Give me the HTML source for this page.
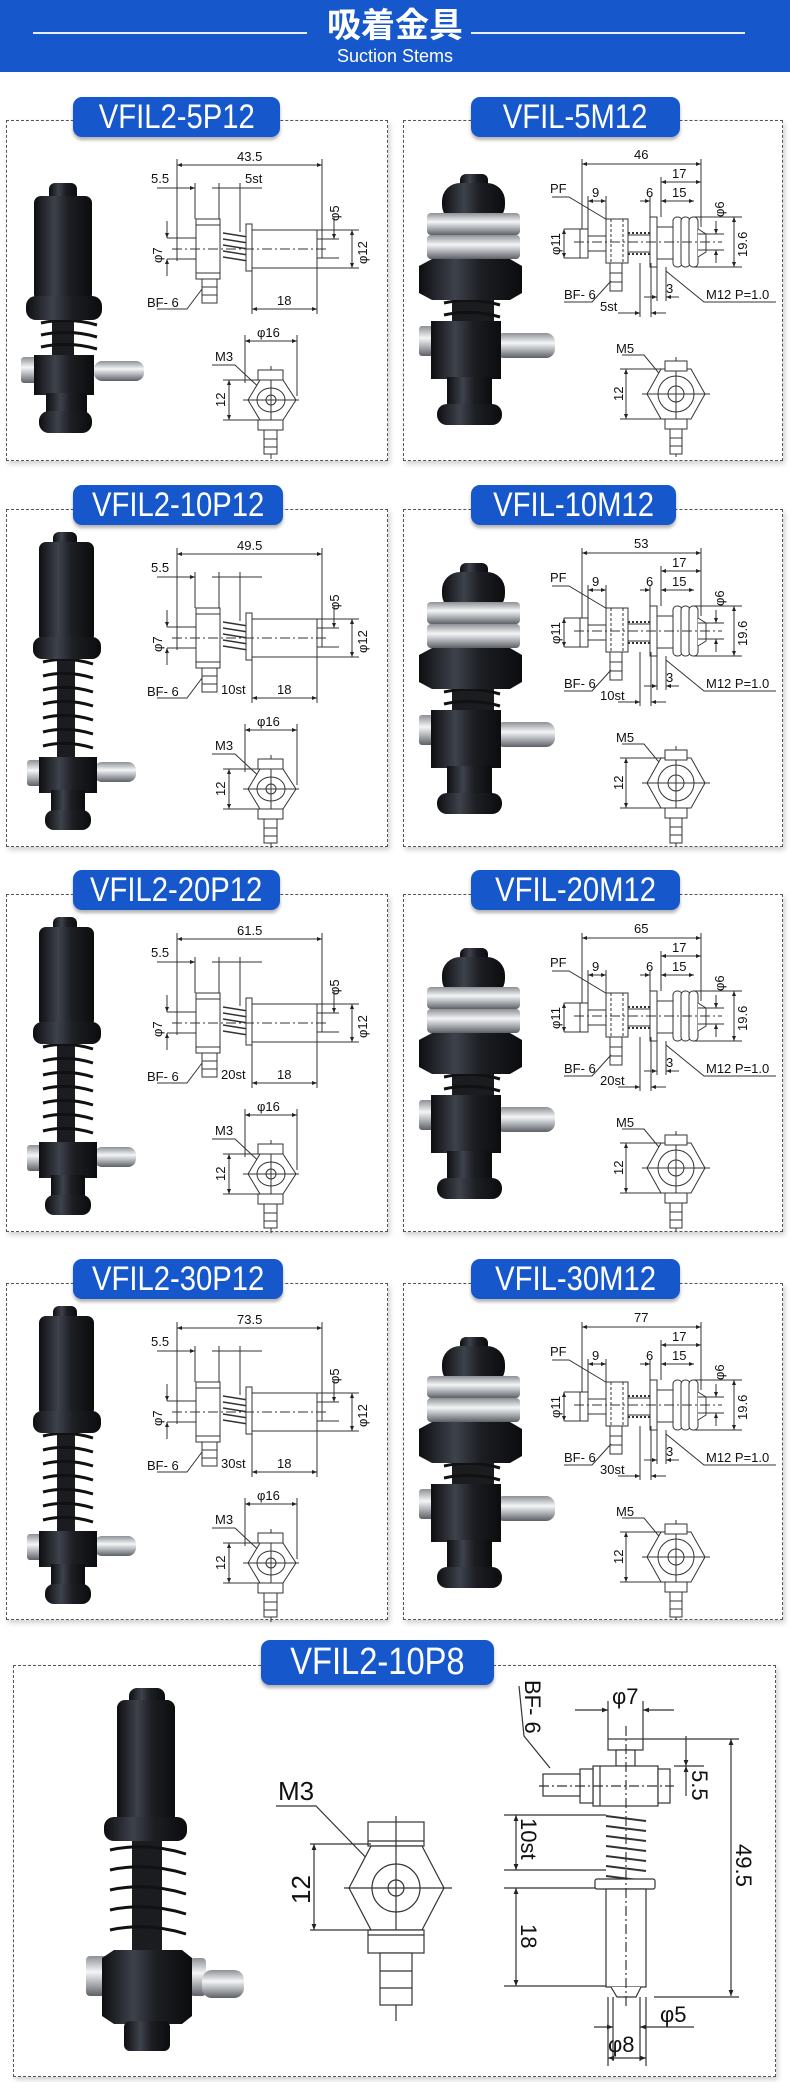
<!DOCTYPE html>
<html><head><meta charset="utf-8"><style>
*{margin:0;padding:0;box-sizing:border-box}
body{width:790px;height:2082px;background:#fff;position:relative;overflow:hidden;font-family:"Liberation Sans","Noto Sans CJK JP",sans-serif}
.hdr{position:absolute;left:0;top:0;width:790px;height:72px;background:#1658cc}
.hl{position:absolute;top:32px;height:2px;background:#e8eefa}
.t1{position:absolute;left:0;width:790px;top:6px;text-align:center;color:#fff;font:bold 34px "Liberation Sans","Noto Sans CJK JP",sans-serif;line-height:40px}
.t2{position:absolute;left:0;width:790px;top:46px;text-align:center;color:#fff;font-size:18px;line-height:20px}
.pn{position:absolute;border:1.5px dashed #555;box-shadow:2px 3px 5px rgba(0,0,0,.18);background:#fff}
.pill{position:absolute;background:#1658cc;border-radius:9px;box-shadow:0 3px 3px rgba(0,0,0,.3);color:#fff;text-align:center;font-size:34px;line-height:40px;z-index:2}
.pill span{display:inline-block;transform:scaleX(.86)}
svg.d{position:absolute;left:0;top:0}
svg text{font-family:"Liberation Sans",sans-serif;font-size:13px;fill:#111}
</style></head><body>
<svg width="0" height="0" style="position:absolute">
<defs>
<linearGradient id="g" x1="0" x2="1"><stop offset="0" stop-color="#0d0e11"/><stop offset=".35" stop-color="#3e424b"/><stop offset=".6" stop-color="#1c1e23"/><stop offset="1" stop-color="#0b0c0e"/></linearGradient>
<linearGradient id="s" x1="0" y1="0" x2="0" y2="1"><stop offset="0" stop-color="#8d9196"/><stop offset=".4" stop-color="#f4f5f6"/><stop offset=".7" stop-color="#a9adb2"/><stop offset="1" stop-color="#5d6166"/></linearGradient>
<marker id="a" viewBox="0 0 10 10" refX="10" refY="5" markerWidth="7" markerHeight="5" orient="auto-start-reverse"><path d="M0 1L10 5L0 9Z" fill="#222"/></marker>
<symbol id="pph" viewBox="0 0 382 341"><rect x="42" y="62" width="28" height="20" rx="6" fill="url(#g)"/><rect x="27" y="75" width="58" height="105" rx="7" fill="url(#g)"/><rect x="45" y="195" width="22" height="45" fill="#1a1c20"/><path d="M34 202 Q62 196 90 204 M34 214 Q62 208 90 216 M34 226 Q62 220 90 228" stroke="#111" stroke-width="3" fill="none"/><rect x="19" y="175" width="76" height="24" rx="10" fill="url(#g)"/><rect x="87" y="240" width="50" height="20" rx="8" fill="url(#s)"/><rect x="14" y="236" width="16" height="26" rx="3" fill="url(#s)"/><rect x="27" y="234" width="60" height="40" fill="url(#g)"/><rect x="39" y="272" width="41" height="30" fill="url(#g)"/><rect x="32" y="290" width="53" height="22" rx="10" fill="url(#g)"/></symbol>
<symbol id="pphl" viewBox="0 0 382 341"><rect x="46" y="22" width="24" height="18" rx="6" fill="url(#g)"/><rect x="32" y="32" width="55" height="100" rx="7" fill="url(#g)"/><rect x="50" y="145" width="18" height="110" fill="#1a1c20"/><path d="M36 152 Q60 146 86 154 M36 166 Q60 160 86 168 M36 180 Q60 174 86 182 M36 194 Q60 188 86 196 M36 208 Q60 202 86 210 M36 222 Q60 216 86 224 M36 236 Q60 230 86 238" stroke="#111" stroke-width="3" fill="none"/><rect x="26" y="127" width="68" height="22" rx="9" fill="url(#g)"/><rect x="87" y="252" width="42" height="20" rx="8" fill="url(#s)"/><rect x="20" y="250" width="15" height="26" rx="3" fill="url(#s)"/><rect x="32" y="247" width="58" height="36" fill="url(#g)"/><rect x="44" y="280" width="34" height="30" fill="url(#g)"/><rect x="38" y="300" width="46" height="20" rx="9" fill="url(#g)"/></symbol>
<symbol id="mph" viewBox="0 0 382 341"><rect x="56" y="53" width="28" height="16" rx="6" fill="url(#g)"/><rect x="38" y="62" width="63" height="40" rx="18" fill="url(#g)"/><rect x="23" y="92" width="93" height="22" rx="4" fill="url(#s)"/><rect x="23" y="114" width="93" height="24" rx="4" fill="url(#s)"/><rect x="48" y="175" width="42" height="30" fill="#1a1c20"/><path d="M40 182 Q68 176 96 184 M40 194 Q68 188 96 196" stroke="#111" stroke-width="3" fill="none"/><path d="M15 145 L28 138 H106 L118 145 V172 L106 179 H28 L15 172Z" fill="url(#g)"/><rect x="15" y="205" width="18" height="30" rx="3" fill="url(#s)"/><rect x="91" y="212" width="60" height="25" rx="9" fill="url(#s)"/><rect x="27" y="200" width="70" height="58" fill="url(#g)"/><rect x="43" y="256" width="45" height="35" fill="url(#g)"/><rect x="33" y="283" width="65" height="21" rx="10" fill="url(#g)"/></symbol>
<symbol id="pdr" viewBox="0 0 382 341"><g stroke="#333" stroke-width="1" fill="none">
<line x1="170" y1="44" x2="315" y2="44" marker-start="url(#a)" marker-end="url(#a)"/>
<path d="M170 38V140M315 38V118M188 62V98M212 62V98M233 62V111"/>
<line x1="150" y1="67" x2="188" y2="67" marker-end="url(#a)"/><line x1="205" y1="67" x2="255" y2="67"/>
<rect x="189" y="98" width="24" height="60" fill="#fff"/><path d="M189 104H213M189 152H213"/>
<rect x="170" y="117" width="19" height="21" fill="#fff"/>
<path d="M216 112L241 116M216 118L241 122M216 124L241 128M216 130L241 134M216 136L241 140" stroke-width="1.5"/>
<rect x="239" y="103" width="6" height="47" fill="#fff"/><rect x="245" y="109" width="65" height="38" fill="#fff"/><rect x="310" y="118" width="5" height="19" fill="#fff"/>
<line x1="165" y1="128" x2="322" y2="128" stroke-dasharray="10 3 2 3"/>
<rect x="195" y="158" width="15" height="24" fill="#fff"/><path d="M195 166H210M195 174H210"/>
<line x1="327" y1="96" x2="327" y2="118" marker-end="url(#a)"/><line x1="345" y1="109" x2="345" y2="147" marker-start="url(#a)" marker-end="url(#a)"/>
<path d="M310 109H352M310 147H352M315 118H332M315 137H332M160 117H170M160 138H170"/>
<line x1="160" y1="100" x2="160" y2="117" marker-end="url(#a)"/><line x1="160" y1="155" x2="160" y2="138" marker-end="url(#a)"/>
<path d="M150 188H180L195 168"/>
<line x1="245" y1="188" x2="310" y2="188" marker-start="url(#a)" marker-end="url(#a)"/><path d="M245 147V193M310 147V193"/>
<line x1="238" y1="220" x2="290" y2="220" marker-start="url(#a)" marker-end="url(#a)"/><path d="M238 214V262M290 214V275"/>
<path d="M205 244H228L258 272"/>
<polygon points="241,279 253,259 276,259 289,279 276,299 253,299" fill="#fff"/>
<ellipse cx="264" cy="279" rx="14" ry="12"/><circle cx="264" cy="279" r="5"/><path d="M236 279H292M264 245V338"/>
<rect x="251" y="249" width="25" height="10" fill="#fff"/><rect x="251" y="299" width="25" height="10" fill="#fff"/><rect x="257" y="309" width="13" height="24" fill="#fff"/><path d="M257 318H270M257 326H270"/>
<line x1="222" y1="259" x2="222" y2="299" marker-start="url(#a)" marker-end="url(#a)"/><path d="M216 259H253M216 299H253"/>
</g></symbol>
<symbol id="mdr" viewBox="0 0 382 341"><g stroke="#333" stroke-width="1" fill="none">
<line x1="178" y1="43" x2="297" y2="43" marker-start="url(#a)" marker-end="url(#a)"/>
<path d="M178 38V108M297 38V106M257 56V96M202 75V98M184 75V108M246 75V96"/>
<line x1="257" y1="61" x2="297" y2="61" marker-start="url(#a)" marker-end="url(#a)"/>
<line x1="184" y1="80" x2="202" y2="80" marker-start="url(#a)" marker-end="url(#a)"/>
<line x1="236" y1="80" x2="246" y2="80" marker-end="url(#a)"/><line x1="257" y1="80" x2="290" y2="80" marker-start="url(#a)" marker-end="url(#a)"/>
<path d="M148 76H165L205 100"/>
<rect x="176" y="108" width="8" height="29" fill="#fff"/><rect x="184" y="115" width="18" height="15" fill="#fff"/>
<rect x="202" y="98" width="22" height="44" fill="#fff"/><path d="M207 98V142M219 98V142" stroke-dasharray="3 2"/>
<rect x="224" y="114" width="22" height="17" fill="#fff"/><path d="M224 112H246M224 133H246" stroke-dasharray="2 2" stroke-width="2"/>
<rect x="246" y="96" width="7" height="50" fill="#fff"/><rect x="253" y="106" width="19" height="32" fill="#fff"/>
<rect x="269" y="96" width="9" height="50" rx="4" fill="#fff"/><rect x="277" y="96" width="9" height="50" rx="4" fill="#fff"/><rect x="285" y="96" width="9" height="50" rx="4" fill="#fff"/>
<path d="M294 108L302 113V131L294 136" fill="#fff"/>
<line x1="170" y1="121" x2="318" y2="121" stroke-dasharray="10 3 2 3"/>
<path d="M294 113H320M294 129H320M290 96H338M290 146H338M160 108H176M160 137H176"/>
<line x1="312" y1="100" x2="312" y2="113" marker-end="url(#a)"/><line x1="312" y1="142" x2="312" y2="129" marker-end="url(#a)"/>
<line x1="330" y1="96" x2="330" y2="146" marker-start="url(#a)" marker-end="url(#a)"/>
<line x1="160" y1="108" x2="160" y2="137" marker-start="url(#a)" marker-end="url(#a)"/>
<rect x="206" y="142" width="12" height="28" fill="#fff"/><path d="M206 152H218M206 161H218"/>
<path d="M160 181H188L207 160"/>
<path d="M253 146V180M262 146V180M236 142V196M247 142V196"/>
<line x1="240" y1="176" x2="253" y2="176" marker-end="url(#a)"/><line x1="275" y1="176" x2="262" y2="176" marker-end="url(#a)"/>
<line x1="214" y1="192" x2="236" y2="192" marker-end="url(#a)"/><line x1="262" y1="192" x2="247" y2="192" marker-end="url(#a)"/>
<path d="M372 181H300L262 150"/>
<path d="M218 234H240L268 268"/>
<polygon points="243,273 257,248 287,248 301,273 287,298 257,298" fill="#fff"/>
<circle cx="272" cy="273" r="18"/><circle cx="272" cy="273" r="8"/><path d="M238 273H306M272 236V336"/>
<rect x="261" y="240" width="22" height="10" fill="#fff"/><rect x="261" y="298" width="22" height="10" fill="#fff"/><rect x="266" y="308" width="12" height="25" fill="#fff"/><path d="M266 317H278M266 325H278"/>
<line x1="222" y1="248" x2="222" y2="298" marker-start="url(#a)" marker-end="url(#a)"/><path d="M216 248H257M216 298H257"/>
</g></symbol>
</defs></svg>

<div class="hdr"><div class="hl" style="left:33px;width:274px"></div><div class="hl" style="left:471px;width:274px"></div>
<div class="t1">吸着金具</div><div class="t2">Suction Stems</div></div>

<div class="pill" style="left:73px;top:97px;width:207px;height:40px"><span>VFIL2-5P12</span></div>
<div class="pill" style="left:471px;top:97px;width:209px;height:40px"><span>VFIL-5M12</span></div>
<div class="pn" style="left:6px;top:120px;width:382px;height:341px"><svg class="d" width="382" height="341"><use href="#pph"/><use href="#pdr"/>
<text x="230" y="40">43.5</text><text x="144" y="62">5.5</text><text x="238" y="62">5st</text>
<text transform="translate(332,100) rotate(-90)">φ5</text><text transform="translate(360,143) rotate(-90)">φ12</text><text transform="translate(155,142) rotate(-90)">φ7</text>
<text x="140" y="186">BF- 6</text><text x="270" y="184">18</text><text x="250" y="216">φ16</text><text x="208" y="240">M3</text><text transform="translate(218,286) rotate(-90)">12</text></svg></div>
<div class="pn" style="left:403px;top:120px;width:380px;height:341px"><svg class="d" width="382" height="341"><use href="#mph"/><use href="#mdr"/>
<text x="230" y="38">46</text><text x="268" y="57">17</text><text x="146" y="72">PF</text><text x="188" y="76">9</text><text x="242" y="76">6</text><text x="268" y="76">15</text>
<text transform="translate(320,96) rotate(-90)">φ6</text><text transform="translate(156,134) rotate(-90)">φ11</text><text transform="translate(343,136) rotate(-90)">19.6</text>
<text x="160" y="178">BF- 6</text><text x="262" y="172">3</text><text x="302" y="178">M12 P=1.0</text><text x="196" y="190">5st</text>
<text x="212" y="232">M5</text><text transform="translate(219,280) rotate(-90)">12</text></svg></div>

<div class="pill" style="left:73px;top:485px;width:210px;height:40px"><span>VFIL2-10P12</span></div>
<div class="pill" style="left:471px;top:485px;width:205px;height:40px"><span>VFIL-10M12</span></div>
<div class="pn" style="left:6px;top:509px;width:382px;height:338px"><svg class="d" width="382" height="341"><use href="#pphl"/><use href="#pdr"/>
<text x="230" y="40">49.5</text><text x="144" y="62">5.5</text>
<text transform="translate(332,100) rotate(-90)">φ5</text><text transform="translate(360,143) rotate(-90)">φ12</text><text transform="translate(155,142) rotate(-90)">φ7</text>
<text x="140" y="186">BF- 6</text><text x="214" y="184">10st</text><text x="270" y="184">18</text><text x="250" y="216">φ16</text><text x="208" y="240">M3</text><text transform="translate(218,286) rotate(-90)">12</text></svg></div>
<div class="pn" style="left:403px;top:509px;width:380px;height:338px"><svg class="d" width="382" height="341"><use href="#mph"/><use href="#mdr"/>
<text x="230" y="38">53</text><text x="268" y="57">17</text><text x="146" y="72">PF</text><text x="188" y="76">9</text><text x="242" y="76">6</text><text x="268" y="76">15</text>
<text transform="translate(320,96) rotate(-90)">φ6</text><text transform="translate(156,134) rotate(-90)">φ11</text><text transform="translate(343,136) rotate(-90)">19.6</text>
<text x="160" y="178">BF- 6</text><text x="262" y="172">3</text><text x="302" y="178">M12 P=1.0</text><text x="196" y="190">10st</text>
<text x="212" y="232">M5</text><text transform="translate(219,280) rotate(-90)">12</text></svg></div>

<div class="pill" style="left:73px;top:870px;width:207px;height:40px"><span>VFIL2-20P12</span></div>
<div class="pill" style="left:471px;top:870px;width:209px;height:40px"><span>VFIL-20M12</span></div>
<div class="pn" style="left:6px;top:894px;width:382px;height:338px"><svg class="d" width="382" height="341"><use href="#pphl"/><use href="#pdr"/>
<text x="230" y="40">61.5</text><text x="144" y="62">5.5</text>
<text transform="translate(332,100) rotate(-90)">φ5</text><text transform="translate(360,143) rotate(-90)">φ12</text><text transform="translate(155,142) rotate(-90)">φ7</text>
<text x="140" y="186">BF- 6</text><text x="214" y="184">20st</text><text x="270" y="184">18</text><text x="250" y="216">φ16</text><text x="208" y="240">M3</text><text transform="translate(218,286) rotate(-90)">12</text></svg></div>
<div class="pn" style="left:403px;top:894px;width:380px;height:338px"><svg class="d" width="382" height="341"><use href="#mph"/><use href="#mdr"/>
<text x="230" y="38">65</text><text x="268" y="57">17</text><text x="146" y="72">PF</text><text x="188" y="76">9</text><text x="242" y="76">6</text><text x="268" y="76">15</text>
<text transform="translate(320,96) rotate(-90)">φ6</text><text transform="translate(156,134) rotate(-90)">φ11</text><text transform="translate(343,136) rotate(-90)">19.6</text>
<text x="160" y="178">BF- 6</text><text x="262" y="172">3</text><text x="302" y="178">M12 P=1.0</text><text x="196" y="190">20st</text>
<text x="212" y="232">M5</text><text transform="translate(219,280) rotate(-90)">12</text></svg></div>

<div class="pill" style="left:73px;top:1259px;width:210px;height:40px"><span>VFIL2-30P12</span></div>
<div class="pill" style="left:471px;top:1259px;width:209px;height:40px"><span>VFIL-30M12</span></div>
<div class="pn" style="left:6px;top:1283px;width:382px;height:337px"><svg class="d" width="382" height="341"><use href="#pphl"/><use href="#pdr"/>
<text x="230" y="40">73.5</text><text x="144" y="62">5.5</text>
<text transform="translate(332,100) rotate(-90)">φ5</text><text transform="translate(360,143) rotate(-90)">φ12</text><text transform="translate(155,142) rotate(-90)">φ7</text>
<text x="140" y="186">BF- 6</text><text x="214" y="184">30st</text><text x="270" y="184">18</text><text x="250" y="216">φ16</text><text x="208" y="240">M3</text><text transform="translate(218,286) rotate(-90)">12</text></svg></div>
<div class="pn" style="left:403px;top:1283px;width:380px;height:337px"><svg class="d" width="382" height="341"><use href="#mph"/><use href="#mdr"/>
<text x="230" y="38">77</text><text x="268" y="57">17</text><text x="146" y="72">PF</text><text x="188" y="76">9</text><text x="242" y="76">6</text><text x="268" y="76">15</text>
<text transform="translate(320,96) rotate(-90)">φ6</text><text transform="translate(156,134) rotate(-90)">φ11</text><text transform="translate(343,136) rotate(-90)">19.6</text>
<text x="160" y="178">BF- 6</text><text x="262" y="172">3</text><text x="302" y="178">M12 P=1.0</text><text x="196" y="190">30st</text>
<text x="212" y="232">M5</text><text transform="translate(219,280) rotate(-90)">12</text></svg></div>

<div class="pill" style="left:261px;top:1640px;width:233px;height:45px;line-height:45px;font-size:38px"><span>VFIL2-10P8</span></div>
<div class="pn" style="left:13px;top:1665px;width:763px;height:412px"><svg class="d" width="763" height="412">
<rect x="115" y="22" width="36" height="24" rx="8" fill="url(#g)"/><rect x="103" y="34" width="58" height="125" rx="8" fill="url(#g)"/>
<rect x="118" y="170" width="30" height="120" fill="#1a1c20"/>
<path d="M96 184 Q133 176 172 188 M96 204 Q133 196 172 208 M96 224 Q133 216 172 228 M96 244 Q133 236 172 248 M96 264 Q133 256 172 268" stroke="#111" stroke-width="3" fill="none"/>
<rect x="90" y="151" width="83" height="24" rx="10" fill="url(#g)"/>
<rect x="72" y="290" width="22" height="40" rx="4" fill="url(#s)"/><rect x="176" y="292" width="16" height="38" rx="4" fill="url(#s)"/><rect x="188" y="304" width="42" height="28" rx="10" fill="url(#s)"/>
<path d="M88 292 L100 284 H168 L178 292 V350 L168 358 H100 L88 350Z" fill="url(#g)"/>
<rect x="110" y="355" width="46" height="30" rx="6" fill="url(#g)"/>
<g stroke="#333" stroke-width="1.2" fill="none">
<path d="M262 140H302L362 202"/>
<rect x="354" y="156" width="56" height="24" fill="#fff"/><path d="M354 175H410"/>
<polygon points="335,222 357,180 408,180 430,222 408,264 357,264" fill="#fff"/>
<ellipse cx="382" cy="222" rx="24" ry="24"/><circle cx="382" cy="222" r="8"/><path d="M330 222H438M382 150V355"/>
<rect x="354" y="264" width="56" height="23" fill="#fff"/><path d="M354 269H410"/>
<rect x="366" y="287" width="32" height="52" fill="#fff"/><path d="M366 305H398M366 322H398"/>
<line x1="300" y1="178" x2="300" y2="264" marker-start="url(#a)" marker-end="url(#a)"/><path d="M296 178H357M296 264H357"/>
<path d="M505 20L510 70L536 102"/>
<line x1="561" y1="44" x2="594" y2="44" marker-end="url(#a)"/><line x1="660" y1="44" x2="629" y2="44" marker-end="url(#a)"/><path d="M594 35V73M629 35V73"/>
<rect x="594" y="73" width="35" height="11" fill="#fff"/><rect x="602" y="84" width="19" height="16" fill="#fff"/>
<rect x="579" y="100" width="65" height="40" fill="#fff"/><path d="M586 100V140"/>
<rect x="566" y="103" width="13" height="34" fill="#fff"/><rect x="529" y="108" width="37" height="22" fill="#fff"/>
<rect x="644" y="103" width="12" height="34" fill="#fff"/>
<line x1="525" y1="120" x2="660" y2="120" stroke-dasharray="10 3 2 3"/>
<path d="M592 150L632 155M592 160L632 165M592 170L632 175M592 180L632 185M592 190L632 195M592 200L632 205M592 210L632 215" stroke-width="2"/>
<rect x="581" y="213" width="60" height="10" rx="2" fill="#fff"/>
<rect x="592" y="223" width="40" height="98" fill="#fff"/><path d="M597 321L603 331H622L627 321" fill="#fff"/>
<path d="M612 60V340" stroke-dasharray="10 3 2 3"/>
<path d="M629 73H725M660 100H690M640 331H725M490 149H592M490 204H592M490 222H581M490 320H592"/>
<line x1="672" y1="70" x2="672" y2="100" marker-end="url(#a)"/><line x1="672" y1="130" x2="672" y2="100" marker-end="url(#a)"/>
<line x1="717" y1="73" x2="717" y2="330" marker-start="url(#a)" marker-end="url(#a)"/>
<line x1="502" y1="149" x2="502" y2="204" marker-start="url(#a)" marker-end="url(#a)"/>
<line x1="502" y1="222" x2="502" y2="320" marker-start="url(#a)" marker-end="url(#a)"/>
<path d="M599 331V395M626 331V395M594 331V400M632 331V400"/>
<line x1="580" y1="361" x2="599" y2="361" marker-end="url(#a)"/><line x1="680" y1="361" x2="626" y2="361" marker-end="url(#a)"/>
<line x1="594" y1="392" x2="632" y2="392" marker-start="url(#a)" marker-end="url(#a)"/>
</g>
<text x="264" y="134" style="font-size:26px">M3</text>
<text transform="translate(296,238) rotate(-90)" style="font-size:26px">12</text>
<text transform="translate(511,14) rotate(90)" style="font-size:22px">BF- 6</text>
<text x="598" y="38" style="font-size:22px">φ7</text>
<text transform="translate(678,104) rotate(90)" style="font-size:22px">5.5</text>
<text transform="translate(507,152) rotate(90)" style="font-size:22px">10st</text>
<text transform="translate(507,258) rotate(90)" style="font-size:22px">18</text>
<text transform="translate(722,178) rotate(90)" style="font-size:22px">49.5</text>
<text x="646" y="356" style="font-size:22px">φ5</text>
<text x="594" y="386" style="font-size:22px">φ8</text>
</svg></div>
</body></html>
